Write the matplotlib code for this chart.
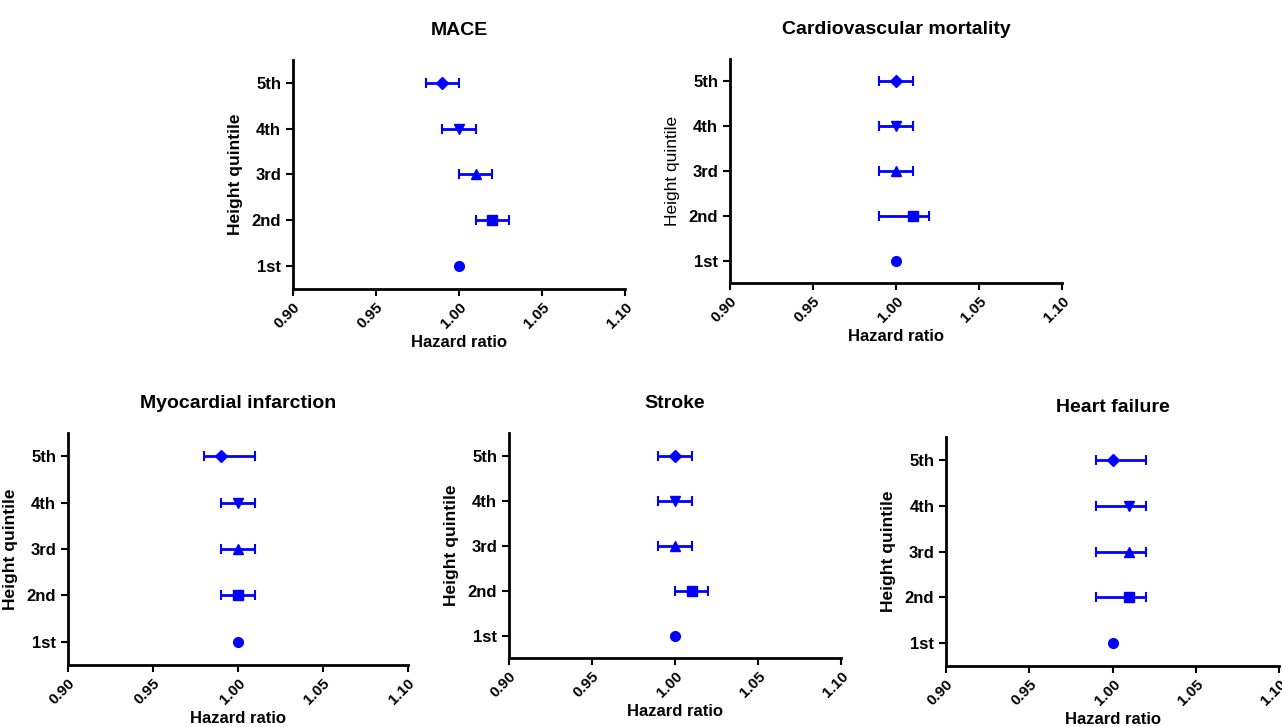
import matplotlib
matplotlib.use('Agg')
import matplotlib.pyplot as plt

plt.rcParams['font.family'] = ['Liberation Sans', 'DejaVu Sans']

# Data: rows 1st..5th height quintile
quintiles = ['1st', '2nd', '3rd', '4th', '5th']
markers = ['o', 's', '^', 'v', 'D']
marker_sizes = [7, 7, 7, 7, 6]

mace_hr = [1.00, 1.02, 1.01, 1.00, 0.99]
mace_lo = [1.00, 1.01, 1.00, 0.99, 0.98]
mace_hi = [1.00, 1.03, 1.02, 1.01, 1.00]

cvm_hr = [1.00, 1.01, 1.00, 1.00, 1.00]
cvm_lo = [1.00, 0.99, 0.99, 0.99, 0.99]
cvm_hi = [1.00, 1.02, 1.01, 1.01, 1.01]

mi_hr = [1.00, 1.00, 1.00, 1.00, 0.99]
mi_lo = [1.00, 0.99, 0.99, 0.99, 0.98]
mi_hi = [1.00, 1.01, 1.01, 1.01, 1.01]

stroke_hr = [1.00, 1.01, 1.00, 1.00, 1.00]
stroke_lo = [1.00, 1.00, 0.99, 0.99, 0.99]
stroke_hi = [1.00, 1.02, 1.01, 1.01, 1.01]

hf_hr = [1.00, 1.01, 1.01, 1.01, 1.00]
hf_lo = [1.00, 0.99, 0.99, 0.99, 0.99]
hf_hi = [1.00, 1.02, 1.02, 1.02, 1.02]

x_ticks = [0.90, 0.95, 1.00, 1.05, 1.10]

panels = [
    # title, hr, lo, hi, axes rect, ylabel weight
    ('MACE', mace_hr, mace_lo, mace_hi, [0.2285, 0.6025, 0.259, 0.315], 'bold'),
    ('Cardiovascular mortality', cvm_hr, cvm_lo, cvm_hi, [0.5694, 0.6107, 0.259, 0.308], 'normal'),
    ('Myocardial infarction', mi_hr, mi_lo, mi_hi, [0.053, 0.0853, 0.265, 0.319], 'bold'),
    ('Stroke', stroke_hr, stroke_lo, stroke_hi, [0.397, 0.0949, 0.259, 0.3095], 'bold'),
    ('Heart failure', hf_hr, hf_lo, hf_hi, [0.738, 0.0839, 0.26, 0.315], 'bold'),
]

fig = plt.figure(figsize=(12.82, 7.27), dpi=100)

for title, hr, lo, hi, rect, ylw in panels:
    ax = fig.add_axes(rect)
    for i, q in enumerate(quintiles):
        y = i + 1
        if hi[i] > lo[i]:
            ax.errorbar(hr[i], y, xerr=[[hr[i] - lo[i]], [hi[i] - hr[i]]],
                        fmt=markers[i], color='#0000ff', ms=marker_sizes[i],
                        elinewidth=2, capsize=3.6, capthick=1.5)
        else:
            ax.plot(hr[i], y, marker=markers[i], color='#0000ff',
                    ms=marker_sizes[i], linestyle='none')

    ax.set_xlim(0.90, 1.10)
    ax.set_ylim(0.5, 5.5)
    ax.set_xticks(x_ticks)
    ax.set_xticklabels(['%.2f' % t for t in x_ticks], rotation=45,
                       ha='right', rotation_mode='anchor',
                       fontsize=11, fontweight='bold')
    ax.set_yticks(range(1, 6))
    ax.set_yticklabels(quintiles, fontsize=12, fontweight='bold')
    ax.tick_params(axis='both', direction='out', length=5, width=1.5)
    ax.tick_params(axis='x', pad=3)
    for side in ['top', 'right']:
        ax.spines[side].set_visible(False)
    for side in ['left', 'bottom']:
        ax.spines[side].set_linewidth(2)

    ax.set_title(title, fontsize=14, fontweight='bold', pad=18)
    ax.set_xlabel('Hazard ratio', fontsize=12, fontweight='bold', labelpad=3)
    ax.set_ylabel('Height quintile', fontsize=12.5, fontweight=ylw, labelpad=6)

fig.savefig('out.png', dpi=100)
